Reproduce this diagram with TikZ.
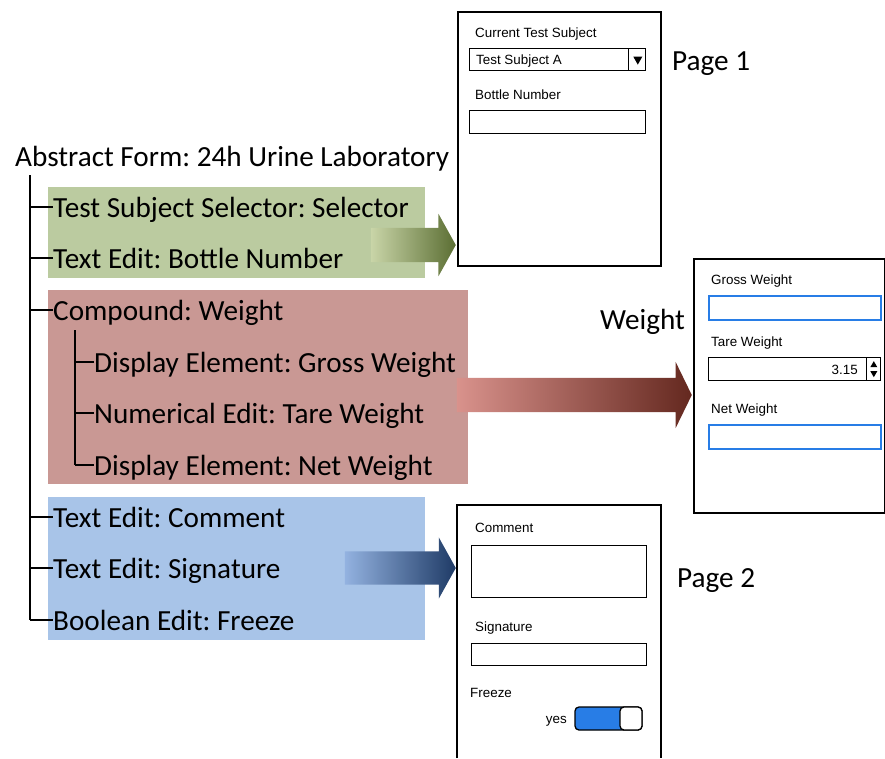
\documentclass[tikz,border=0pt]{standalone}
\usepackage{fontspec}
\setmainfont{Carlito}
\newfontfamily\mockfont{Liberation Sans}
\usepackage{tikz}
\usetikzlibrary{shapes,arrows}
\usetikzlibrary{shapes.arrows}
\usetikzlibrary{calc}
\frenchspacing
\definecolor{boxgreen}{RGB}{187,203,160}
\definecolor{boxred}{RGB}{201,152,148}
\definecolor{boxblue}{RGB}{168,196,232}
\definecolor{mockblue}{RGB}{40,125,230}
\newcommand{\MOCK}[1]
{
    {\fontsize{13.4}{15}\mockfont #1}
}
\tikzset{
  tree item/.style={
    anchor=west,inner xsep=0pt,text height=22pt,text depth=2pt,
    font=\fontsize{29.2}{31}\selectfont,
  },
  tree line/.style={line width=2.7pt},
  screen/.style={draw=black,line width=1.8pt,fill=white,anchor=north west,inner sep=0pt},
  field/.style={draw=black,line width=1.3pt,anchor=north west,inner sep=0pt},
  blue field/.style={draw=mockblue,line width=1.8pt,anchor=north west,inner sep=0pt},
  mock label/.style={anchor=base west,inner sep=0pt},
  big arrow/.style={
    single arrow,anchor=tip,inner xsep=0pt,inner ysep=17pt,
    single arrow head extend=14pt,single arrow tip angle=122,
  },
}

\begin{document}
\begin{tikzpicture}[x=1pt,y=-1pt]
        \useasboundingbox (0,0) rectangle (885,758);

        % coloured groups
        \fill[boxgreen] (48,187) rectangle (425,278);
        \fill[boxred] (48,290) rectangle (468,484);
        \fill[boxblue] (48,497) rectangle (425,640);

        % abstract form tree
        \node[tree item] (title) at (15,156) {Abstract Form: 24h Urine Laboratory};
        \node[tree item] (subject) at (53,207) {Test Subject Selector: Selector};
        \node[tree item] (bottle) at (53,258) {Text Edit: Bottle Number};
        \node[tree item] (compound) at (53,310) {Compound: Weight};
        \node[tree item] (gross) at (94,362) {Display Element: Gross Weight};
        \node[tree item] (tare) at (94,413) {Numerical Edit: Tare Weight};
        \node[tree item] (net) at (94,465) {Display Element: Net Weight};
        \node[tree item] (comment) at (53,517) {Text Edit: Comment};
        \node[tree item] (signature) at (53,568) {Text Edit: Signature};
        \node[tree item] (freeze) at (53,620) {Boolean Edit: Freeze};

        \coordinate (root) at (30,175);
        \coordinate (sub) at (75,330);
        \draw[tree line] (root) -- (root |- freeze.west);
        \foreach \n in {subject,bottle,compound,comment,signature,freeze}
            \draw[tree line] (root |- \n.west) -- (\n.west);
        \draw[tree line] (sub) -- (sub |- net.west);
        \foreach \n in {gross,tare,net}
            \draw[tree line] (sub |- \n.west) -- (\n.west);

        % arrows
        \node[big arrow,minimum height=85pt,
            left color={rgb,255:red,201;green,213;blue,168},
            right color={rgb,255:red,91;green,110;blue,51}] (arrow1) at (456,245) {};
        \node[big arrow,minimum height=235pt,
            single arrow head extend=16pt,single arrow tip angle=128,
            left color={rgb,255:red,217;green,146;blue,140},
            right color={rgb,255:red,100;green,40;blue,31}] (arrow2) at (692,395) {};
        \node[big arrow,minimum height=111pt,inner ysep=16.5pt,
            left color={rgb,255:red,147;green,178;blue,224},
            right color={rgb,255:red,31;green,59;blue,102}] (arrow3) at (456,568) {};

        % page 1
        \node[screen,minimum width=203pt,minimum height=254pt] (page1) at (457,11) {};
        \node[mock label] (l1) at (475,37) {\MOCK{Current Test Subject}};
        \node[field,minimum width=176pt,minimum height=22pt] (selector) at (469,48) {};
        \node[mock label] (l2) at (476,64) {\MOCK{Test Subject A}};
        \draw[line width=1.3pt] ($(selector.north east)+(-18,0)$) -- ($(selector.south east)+(-18,0)$);
        \fill ($(selector.east)+(-13,-3)$) -- ++(9,0) -- ++(-4.5,8) -- cycle;
        \node[mock label] (l3) at (475,99) {\MOCK{Bottle Number}};
        \node[field,minimum width=176pt,minimum height=23pt] (bottlebox) at (469,110) {};
        \node[tree item] (p1) at (672,60) {Page 1};

        % weight page
        \node[screen,minimum width=191pt,minimum height=254pt] (weightpage) at (693,258) {};
        \node[tree item] (p3) at (600,319) {Weight};
        \node[mock label] (l4) at (711,284) {\MOCK{Gross Weight}};
        \node[blue field,minimum width=172pt,minimum height=24pt] (grossbox) at (708,295) {};
        \node[mock label] (l5) at (711,346) {\MOCK{Tare Weight}};
        \node[field,minimum width=172pt,minimum height=23pt] (tarebox) at (708,357) {};
        \node[anchor=base east,inner sep=0pt] (l6) at (858,374) {\MOCK{3.15}};
        \draw[line width=1.3pt] ($(tarebox.north east)+(-15,0)$) -- ($(tarebox.south east)+(-15,0)$);
        \fill ($(tarebox.east)+(-11,-2)$) -- ++(7,0) -- ++(-3.5,-6) -- cycle;
        \fill ($(tarebox.east)+(-11,2)$) -- ++(7,0) -- ++(-3.5,6) -- cycle;
        \node[mock label] (l7) at (711,413) {\MOCK{Net Weight}};
        \node[blue field,minimum width=172pt,minimum height=24pt] (netbox) at (708,424) {};

        % page 2
        \draw[line width=1.8pt] (457,758) |- (661,505) -- (661,758);
        \node[tree item] (p2) at (677,577) {Page 2};
        \node[mock label] (l8) at (475,532) {\MOCK{Comment}};
        \node[field,minimum width=175pt,minimum height=52pt] (commentbox) at (471,545) {};
        \node[mock label] (l9) at (475,631) {\MOCK{Signature}};
        \node[field,minimum width=175pt,minimum height=22pt] (signbox) at (471,643) {};
        \node[mock label] (l10) at (470,697) {\MOCK{Freeze}};
        \node[anchor=base east,inner sep=0pt] (l11) at (567,723) {\MOCK{yes}};
        \fill[mockblue,rounded corners=4pt] (575,707) rectangle (625,730);
        \draw[line width=1.3pt,rounded corners=4pt] (575,707) rectangle (642,730);
        \draw[line width=1.3pt,fill=white,rounded corners=4pt] (620,707) rectangle (642,730);
\end{tikzpicture}
\end{document}
